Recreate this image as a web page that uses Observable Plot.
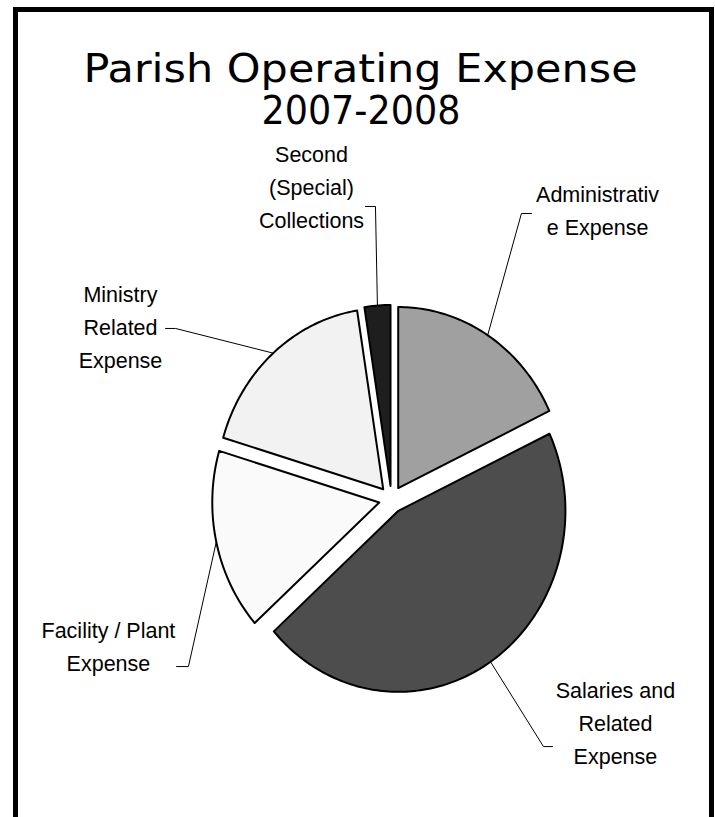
<!DOCTYPE html>
<html><head><meta charset="utf-8">
<script src="https://cdn.jsdelivr.net/npm/d3@7"></script>
<script src="https://cdn.jsdelivr.net/npm/@observablehq/plot@0.6"></script>
<style>
html,body{margin:0;padding:0;background:#fff;overflow:hidden;width:715px;height:817px}
#chart{position:absolute;left:0;top:0}
#frame{position:absolute;left:13px;top:7px;width:691px;height:900px;border:5px solid #000;border-bottom:none}
</style></head><body>
<div id="chart"></div>
<div id="frame"></div>
<script>
// ---- data ----
const categories = ["Administrative Expense", "Salaries and Related Expense", "Facility / Plant Expense", "Ministry Related Expense", "Second (Special) Collections"];
const labels = ["Administrativ\ne Expense", "Salaries and\nRelated\nExpense", "Facility / Plant\nExpense", "Ministry\nRelated\nExpense", "Second\n(Special)\nCollections"];
const shares = [18.0, 45.4, 16.2, 17.9, 2.5]; // percent of total
const titleLines = ["Parish Operating Expense", "2007-2008"];

// ---- styles / layout (pie units: 1 = radius) ----
const fills = ["#a0a0a0", "#4d4d4d", "#fafafa", "#f2f2f2", "#1e1e1e"];
const explode = 0.075;
// label layout: bend of leader (bu,bv), tick end (eu), text centre (tu) and last baseline (tv)
const labelLayout = [
  {bu: 0.778, bv: 1.580, eu: 0.838, tu: 1.234, tv: 1.459},
  {bu: 0.910, bv: -1.365, eu: 0.964, tu: 1.341, tv: -1.464},
  {bu: -1.216, bv: -0.923, eu: -1.287, tu: -1.695, tv: -0.950},
  {bu: -1.293, bv: 0.945, eu: -1.353, tu: -1.623, tv: 0.729},
  {bu: -0.096, bv: 1.619, eu: -0.156, tu: -0.479, tv: 1.501}
];
// title layout: centre, baseline, drawn length (px)
const titleLayout = [
  {u: -0.185, v: 2.304, len: 554},
  {u: -0.183, v: 2.072, len: 199}
];

// ---- geometry ----
const total = d3.sum(shares);
let acc = 0;
const slices = categories.map((c, i) => {
  const a0 = acc / total * 2 * Math.PI; acc += shares[i];
  const a1 = acc / total * 2 * Math.PI;
  const m = (a0 + a1) / 2;
  return {c, i, a0, a1, m, ox: explode * Math.sin(m), oy: explode * Math.cos(m)};
});
const slicePts = [];
for (const s of slices) {
  slicePts.push({c: s.c, u: s.ox, v: s.oy});
  const n = Math.max(2, Math.ceil((s.a1 - s.a0) / (Math.PI / 180)));
  for (let k = 0; k <= n; k++) {
    const t = s.a0 + (s.a1 - s.a0) * k / n;
    slicePts.push({c: s.c, u: s.ox + Math.sin(t), v: s.oy + Math.cos(t)});
  }
}
const leaderPts = [];
const labelRows = [];
slices.forEach((s, i) => {
  const L = labelLayout[i];
  leaderPts.push({c: s.c, u: s.ox + Math.sin(s.m), v: s.oy + Math.cos(s.m)});
  leaderPts.push({c: s.c, u: L.bu, v: L.bv});
  leaderPts.push({c: s.c, u: L.eu, v: L.bv});
  labelRows.push({label: labels[i], u: L.tu, v: L.tv});
});
const titleRows = titleLines.map((t, i) => ({t, ...titleLayout[i]}));

const chart = Plot.plot({
  width: 715, height: 817, margin: 0,
  x: {domain: [-391 / 167, 324 / 167], axis: null},
  y: {domain: [(499 - 817) / 181, 499 / 181], axis: null},
  color: {domain: categories, range: fills},
  style: {background: "white"},
  marks: [
    Plot.line(slicePts, {x: "u", y: "v", z: "c", fill: "c", stroke: "#000", strokeWidth: 2, curve: "linear-closed", strokeLinejoin: "round"}),
    Plot.line(leaderPts, {x: "u", y: "v", z: "c", stroke: "#000", strokeWidth: 1, curve: "linear"}),
    Plot.text(labelRows, {x: "u", y: "v", text: "label", fontSize: 21.5, fontFamily: "Liberation Sans, Arial, sans-serif", lineAnchor: "bottom", lineHeight: 33 / 21.5, textAnchor: "middle", fill: "#000"}),
    Plot.text(titleRows, {x: "u", y: "v", text: "t", fontSize: 39, fontFamily: "DejaVu Sans, sans-serif", lineAnchor: "bottom", textAnchor: "middle", fill: "#000"})
  ]
});
// fit each title line to the width it has in the reference
chart.querySelectorAll("text").forEach(el => {
  const row = titleRows.find(r => r.t === el.textContent);
  if (row) {
    el.setAttribute("textLength", row.len);
    el.setAttribute("lengthAdjust", "spacingAndGlyphs");
  }
});
document.getElementById("chart").appendChild(chart);
</script>
</body></html>
